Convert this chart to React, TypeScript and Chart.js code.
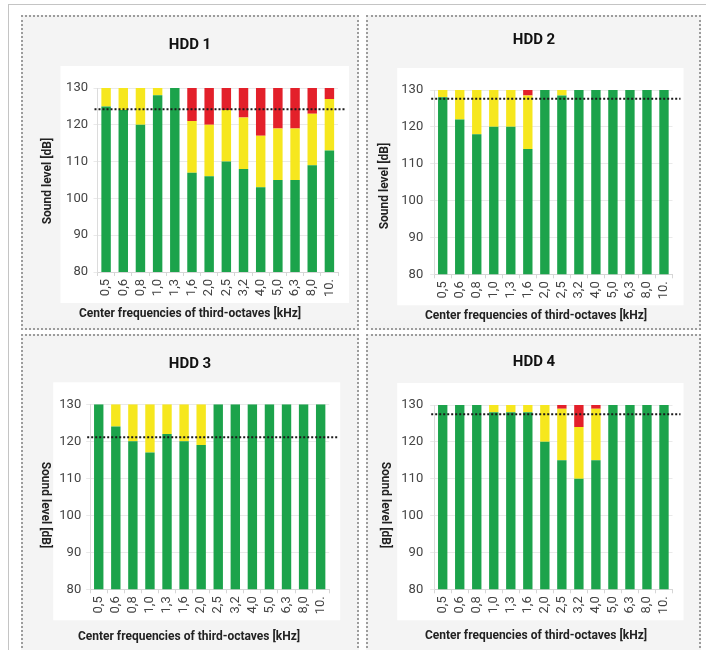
import React, { useEffect, useRef } from "react";
import { Chart, registerables } from "chart.js";
Chart.register(...registerables);

// ---------- data ----------
const categories = ["0,5", "0,6", "0,8", "1,0", "1,3", "1,6", "2,0", "2,5", "3,2", "4,0", "5,0", "6,3", "8,0", "10."];
const yMin = 80;
const yMax = 130;
const yStep = 10;

// top of the green part / top of the yellow part (red fills up to yMax)
const hdd1Green = [125, 124, 120, 128, 130, 107, 106, 110, 108, 103, 105, 105, 109, 113];
const hdd1Yellow = [130, 130, 130, 130, 130, 121, 120, 124, 122, 117, 119, 119, 123, 127];
const hdd1Threshold = 124.2;

const hdd2Green = [128, 122, 118, 120, 120, 114, 130, 128.5, 130, 130, 130, 130, 130, 130];
const hdd2Yellow = [130, 130, 130, 130, 130, 128.5, 130, 130, 130, 130, 130, 130, 130, 130];
const hdd2Threshold = 127.6;

const hdd3Green = [130, 124, 120, 117, 122, 120, 119, 130, 130, 130, 130, 130, 130, 130];
const hdd3Yellow = [130, 130, 130, 130, 130, 130, 130, 130, 130, 130, 130, 130, 130, 130];
const hdd3Threshold = 121.1;

const hdd4Green = [130, 130, 130, 128, 128, 128, 120, 115, 110, 115, 130, 130, 130, 130];
const hdd4Yellow = [130, 130, 130, 130, 130, 130, 130, 129, 124, 129, 130, 130, 130, 130];
const hdd4Threshold = 127.5;

const titles = ["HDD 1", "HDD 2", "HDD 3", "HDD 4"];
const xAxisTitle = "Center frequencies of third-octaves [kHz]";
const yAxisTitle = "Sound level [dB]";

// ---------- style ----------
const GREEN = "#1ca34b";
const YELLOW = "#f6e71e";
const RED = "#e3202a";
const FONT = "Roboto, 'Open Sans', sans-serif";

type PanelCfg = {
  title: string;
  green: number[];
  yellow: number[];
  threshold: number;
  box: { x: number; y: number; w: number; h: number };
  area: { l: number; r: number; t: number; b: number };
  titlePos: [number, number];
  xTitlePos: [number, number];
  yTitlePos: [number, number];
  yTitleRot: number;
  tickGap: number;
};

const panels: PanelCfg[] = [
  {
    title: titles[0], green: hdd1Green, yellow: hdd1Yellow, threshold: hdd1Threshold,
    box: { x: 21, y: 15, w: 338, h: 315 },
    area: { l: 76.5, r: 317, t: 73, b: 257 },
    titlePos: [169, 30], xTitlePos: [169, 298.5], yTitlePos: [27, 166], yTitleRot: -1, tickGap: 9.5,
  },
  {
    title: titles[1], green: hdd2Green, yellow: hdd2Yellow, threshold: hdd2Threshold,
    box: { x: 366, y: 15, w: 335, h: 315 },
    area: { l: 68.2, r: 306.5, t: 75, b: 259.3 },
    titlePos: [168, 25], xTitlePos: [170, 300.5], yTitlePos: [19, 171], yTitleRot: -1, tickGap: 11,
  },
  {
    title: titles[2], green: hdd3Green, yellow: hdd3Yellow, threshold: hdd3Threshold,
    box: { x: 21, y: 334, w: 338, h: 330 },
    area: { l: 69.2, r: 308.2, t: 70.3, b: 255.3 },
    titlePos: [169, 30], xTitlePos: [168, 303], yTitlePos: [24, 171], yTitleRot: 1, tickGap: 9,
  },
  {
    title: titles[3], green: hdd4Green, yellow: hdd4Yellow, threshold: hdd4Threshold,
    box: { x: 366, y: 334, w: 335, h: 330 },
    area: { l: 68.2, r: 306.5, t: 71, b: 255.3 },
    titlePos: [168, 28], xTitlePos: [170, 302], yTitlePos: [19, 171], yTitleRot: 1, tickGap: 11,
  },
];

function makeDecor(p: PanelCfg) {
  return {
    id: "decor",
    beforeDraw(chart: any) {
      const { ctx, chartArea: a } = chart;
      ctx.save();
      ctx.fillStyle = "#ffffff";
      ctx.fillRect(a.left - 37, a.top - 22, a.right - a.left + 37 + 11, a.bottom - a.top + 22 + 31);
      ctx.restore();
    },
    afterDatasetsDraw(chart: any) {
      const { ctx, chartArea: a } = chart;
      const y = chart.scales.y.getPixelForValue(p.threshold);
      ctx.save();
      ctx.strokeStyle = "#1a1a1a";
      ctx.lineWidth = 2;
      ctx.setLineDash([2, 2]);
      ctx.beginPath();
      ctx.moveTo(a.left - 3, y);
      ctx.lineTo(a.right + 8, y);
      ctx.stroke();
      ctx.restore();
    },
    afterDraw(chart: any) {
      const { ctx } = chart;
      ctx.save();
      ctx.textAlign = "center";
      ctx.textBaseline = "middle";
      ctx.fillStyle = "#111";
      ctx.font = `bold 15px ${FONT}`;
      ctx.fillText(p.title, p.titlePos[0], p.titlePos[1]);
      ctx.fillStyle = "#222";
      ctx.font = `bold 12px ${FONT}`;
      ctx.fillText(xAxisTitle, p.xTitlePos[0], p.xTitlePos[1]);
      ctx.translate(p.yTitlePos[0], p.yTitlePos[1]);
      ctx.rotate((p.yTitleRot * Math.PI) / 2);
      ctx.fillText(yAxisTitle, 0, 0);
      ctx.restore();
    },
  };
}

function Panel({ cfg }: { cfg: PanelCfg }) {
  const ref = useRef<HTMLCanvasElement | null>(null);
  useEffect(() => {
    if (!ref.current) return;
    const green = cfg.green.map((g) => g);
    const yellow = cfg.yellow.map((y, i) => y - cfg.green[i]);
    const red = cfg.yellow.map((y) => yMax - y);
    const { w, h } = cfg.box;
    const a = cfg.area;
    const yAxisW = 40;
    const xAxisH = 40;
    const chart = new Chart(ref.current, {
      type: "bar",
      data: {
        labels: categories,
        datasets: [
          { label: "green", data: green, backgroundColor: GREEN },
          { label: "yellow", data: yellow, backgroundColor: YELLOW },
          { label: "red", data: red, backgroundColor: RED },
        ],
      },
      options: {
        responsive: false,
        animation: false,
        devicePixelRatio: 1,
        layout: {
          padding: { left: a.l - yAxisW, right: w - a.r, top: a.t, bottom: h - a.b - xAxisH },
        },
        datasets: { bar: { categoryPercentage: 1, barPercentage: 0.55, borderWidth: 0 } },
        plugins: { legend: { display: false }, tooltip: { enabled: false }, title: { display: false } },
        scales: {
          x: {
            stacked: true,
            afterFit: (s: any) => { s.height = xAxisH; },
            grid: { display: true, drawOnChartArea: false, drawTicks: true, tickLength: 4, color: "#d6d6d6" },
            border: { display: true, color: "#d6d6d6" },
            ticks: { autoSkip: false, maxRotation: 90, minRotation: 90, padding: 3, color: "#444", font: { family: FONT, size: 13 } },
          },
          y: {
            stacked: true,
            min: yMin,
            max: yMax,
            afterFit: (s: any) => { s.width = yAxisW; },
            grid: { color: "#e9e9e9", drawTicks: true, tickLength: 4 },
            border: { display: true, color: "#dcdcdc" },
            ticks: { stepSize: yStep, padding: cfg.tickGap - 4, color: "#444", font: { family: FONT, size: 13 } },
          },
        },
      },
      plugins: [makeDecor(cfg)],
    });
    return () => chart.destroy();
  }, [cfg]);
  const { x, y, w, h } = cfg.box;
  return (
    <>
      <div
        style={{
          position: "absolute", left: x, top: y, width: w, height: h, boxSizing: "border-box",
          border: "2px dotted #9c9c9c", background: "#f4f4f4",
        }}
      />
      <canvas ref={ref} width={w} height={h} style={{ position: "absolute", left: x, top: y, width: w, height: h }} />
    </>
  );
}

export default function App() {
  return (
    <div style={{ position: "absolute", left: 0, top: 0, width: 706, height: 650, background: "#fff", overflow: "hidden" }}>
      <div style={{ position: "absolute", left: 8, top: 4, width: 698, height: 1, background: "#c4c4c4" }} />
      <div style={{ position: "absolute", left: 8, top: 4, width: 1, height: 646, background: "#c4c4c4" }} />
      {panels.map((p) => (
        <Panel key={p.title} cfg={p} />
      ))}
    </div>
  );
}
